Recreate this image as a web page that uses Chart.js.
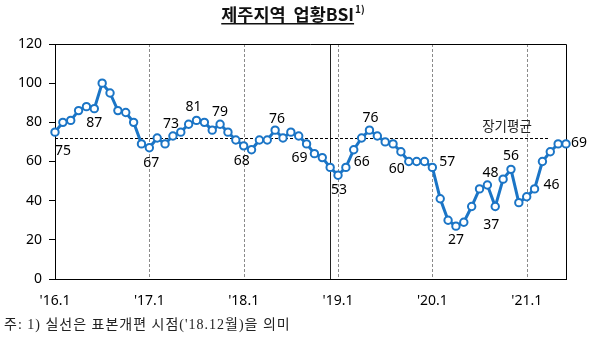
<!DOCTYPE html>
<html><head><meta charset="utf-8">
<script src="https://cdn.jsdelivr.net/npm/chart.js@4/dist/chart.umd.min.js"></script>
<style>html,body{margin:0;padding:0;background:#fff}#wrap{width:600px;height:341px;position:relative}</style>
</head><body><div id="wrap"><canvas id="c" width="600" height="341"></canvas></div>
<script>
// Monthly categories, Jan 2016 – Jun 2021
const months = [
  "'16.1","'16.2","'16.3","'16.4","'16.5","'16.6","'16.7","'16.8","'16.9","'16.10","'16.11","'16.12",
  "'17.1","'17.2","'17.3","'17.4","'17.5","'17.6","'17.7","'17.8","'17.9","'17.10","'17.11","'17.12",
  "'18.1","'18.2","'18.3","'18.4","'18.5","'18.6","'18.7","'18.8","'18.9","'18.10","'18.11","'18.12",
  "'19.1","'19.2","'19.3","'19.4","'19.5","'19.6","'19.7","'19.8","'19.9","'19.10","'19.11","'19.12",
  "'20.1","'20.2","'20.3","'20.4","'20.5","'20.6","'20.7","'20.8","'20.9","'20.10","'20.11","'20.12",
  "'21.1","'21.2","'21.3","'21.4","'21.5","'21.6"
];
// Jeju business conditions BSI
const bsi = [
  75, 80, 81, 86, 88, 87, 100, 95, 86, 85, 80, 69,
  67, 72, 69, 73, 75, 79, 81, 80, 76, 79, 75, 71,
  68, 66, 71, 71, 76, 72, 75, 73, 69, 64, 62, 57,
  53, 57, 66, 72, 76, 73, 70, 69, 65, 60, 60, 60,
  57, 41, 30, 27, 29, 37, 46, 48, 37, 51, 56, 39,
  42, 46, 60, 65, 69, 69
];
// Points that carry a value label
const labeledIdx = [0, 5, 12, 15, 18, 21, 24, 28, 32, 36, 38, 40, 45, 48, 51, 55, 56, 58, 61, 65];
// Year tick labels (first month of each year)
const yearTicks = ["'16.1", "'17.1", "'18.1", "'19.1", "'20.1", "'21.1"];
const yTicks = [0, 20, 40, 60, 80, 100, 120];
const longTermAvg = 72;
const avgLabel = '장기평균';
const revisionMonth = "'18.12";
const titleText = '제주지역  업황BSI';
const titleNote = '1)';
const footnote = "주: 1) 실선은 표본개편 시점('18.12월)을 의미";

const BLUE = '#1B75C6';
const FONT = "'Noto Sans', 'Noto Sans CJK KR', sans-serif";

// label placement relative to its point (dx, dy in px)
const labelPos = {
  0:[8,19], 5:[0,14], 12:[2,15], 15:[-2,-12], 18:[-3,-13], 21:[0,-12], 24:[-2,15],
  28:[2,-11], 32:[-7,14], 36:[1,15], 38:[8,12], 40:[1,-12], 45:[-12,8], 48:[15,-5],
  51:[0,14], 55:[3,-12], 56:[-4,18], 58:[0,-13], 61:[17,-4], 65:[13,-1]
};

const overlay = {
  id: 'overlay',
  beforeDatasetsDraw(chart) {
    const {ctx, chartArea: a, scales: {x, y}} = chart;
    ctx.save();
    // year separators
    ctx.strokeStyle = '#8a8a8a'; ctx.lineWidth = 1; ctx.setLineDash([3, 2]);
    yearTicks.slice(1).forEach(lb => {
      const px = Math.round(x.getPixelForValue(months.indexOf(lb))) + 0.5;
      ctx.beginPath(); ctx.moveTo(px, a.top); ctx.lineTo(px, a.bottom); ctx.stroke();
    });
    // sample revision line
    ctx.setLineDash([]); ctx.strokeStyle = '#222'; ctx.lineWidth = 1;
    const rx = Math.round(x.getPixelForValue(months.indexOf(revisionMonth))) + 0.5;
    ctx.beginPath(); ctx.moveTo(rx, a.top); ctx.lineTo(rx, a.bottom); ctx.stroke();
    // long-term average
    const ay = Math.round(y.getPixelForValue(longTermAvg)) + 0.5;
    ctx.strokeStyle = '#000'; ctx.setLineDash([3, 2]);
    ctx.beginPath(); ctx.moveTo(a.left, ay); ctx.lineTo(x.getPixelForValue(63) - 2, ay); ctx.stroke();
    ctx.setLineDash([]);
    ctx.fillStyle = '#222'; ctx.font = "13.5px 'Noto Sans CJK KR', sans-serif";
    ctx.textAlign = 'center'; ctx.textBaseline = 'middle';
    ctx.fillText(avgLabel, x.getPixelForValue(57.5), ay - 13);
    // frame (top, right)
    ctx.strokeStyle = '#000'; ctx.lineWidth = 1;
    ctx.beginPath();
    ctx.moveTo(a.left, Math.round(a.top) + 0.5); ctx.lineTo(Math.round(a.right) + 0.5, Math.round(a.top) + 0.5);
    ctx.lineTo(Math.round(a.right) + 0.5, a.bottom); ctx.stroke();
    ctx.restore();
  },
  afterDraw(chart) {
    const {ctx} = chart;
    const meta = chart.getDatasetMeta(0);
    ctx.save();
    // value labels
    ctx.fillStyle = '#000'; ctx.font = '14px ' + FONT;
    ctx.textAlign = 'center'; ctx.textBaseline = 'middle';
    labeledIdx.forEach(i => {
      const p = meta.data[i];
      const [dx, dy] = labelPos[i] || [0, -12];
      ctx.fillText(String(bsi[i]), p.x + dx, p.y + dy);
    });
    // title
    ctx.font = "bold 17.5px 'Noto Sans CJK KR', sans-serif";
    ctx.textAlign = 'left'; ctx.textBaseline = 'alphabetic';
    const tw = ctx.measureText(titleText).width;
    ctx.font = "bold 10px 'Noto Sans CJK KR', sans-serif";
    const nw = ctx.measureText(titleNote).width;
    const tx = 293 - (tw + nw + 1) / 2;
    ctx.font = "bold 17.5px 'Noto Sans CJK KR', sans-serif";
    ctx.fillStyle = '#111';
    ctx.fillText(titleText, tx, 21);
    ctx.fillRect(tx, 23, tw, 1.5);
    ctx.font = "bold 10px 'Noto Sans CJK KR', sans-serif";
    ctx.fillText(titleNote, tx + tw + 1, 13);
    // footnote
    ctx.font = "14px 'Liberation Serif', 'Noto Sans CJK KR', serif";
    ctx.letterSpacing = '1px';
    ctx.fillStyle = '#222';
    ctx.textBaseline = 'middle';
    ctx.fillText(footnote, 4, 325);
    ctx.restore();
  }
};

new Chart(document.getElementById('c'), {
  type: 'line',
  data: {
    labels: months,
    datasets: [{
      data: bsi,
      borderColor: BLUE,
      borderWidth: 3,
      pointRadius: 3.7,
      pointBorderWidth: 2,
      pointBackgroundColor: '#fff',
      pointBorderColor: BLUE,
      tension: 0,
      clip: false
    }]
  },
  options: {
    responsive: false,
    animation: false,
    layout: {padding: {top: 44, right: 34, left: 0, bottom: 0}},
    plugins: {legend: {display: false}, tooltip: {enabled: false}, title: {display: false}},
    scales: {
      x: {
        offset: false,
        grid: {display: false, drawTicks: false},
        border: {display: true, color: '#000', width: 1},
        ticks: {
          autoSkip: false, maxRotation: 0, minRotation: 0, padding: 14,
          color: '#000', font: {size: 14, family: FONT},
          callback: (v, i) => yearTicks.includes(months[i]) ? months[i] : ''
        },
        afterFit: s => { s.height = 62; }
      },
      y: {
        min: 0, max: 120,
        afterBuildTicks: s => { s.ticks = yTicks.map(v => ({value: v})); },
        ticks: {padding: 7, color: '#000', font: {size: 14, family: FONT}},
        grid: {drawOnChartArea: false, drawTicks: true, tickLength: 6, color: '#000'},
        border: {display: true, color: '#000', width: 1},
        afterFit: s => { s.width = 55; }
      }
    }
  },
  plugins: [overlay]
});
</script>
</body></html>
